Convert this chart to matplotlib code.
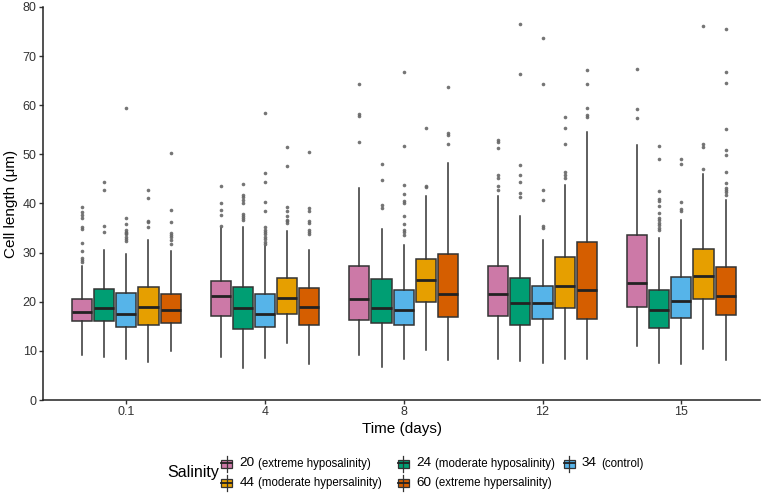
import numpy as np
import matplotlib
matplotlib.use("Agg")
import matplotlib.pyplot as plt
from matplotlib.patches import Rectangle
from matplotlib.lines import Line2D

plt.rcParams['font.family'] = ['Liberation Sans', 'DejaVu Sans']

# time points (days)
days = ['0.1', '4', '8', '12', '15']

# salinity groups
salinity = ['20', '24', '34', '44', '60']
sal_desc = ['(extreme hyposalinity)', '(moderate hyposalinity)', '(control)',
            '(moderate hypersalinity)', '(extreme hypersalinity)']
colors = ['#CC79A7', '#009E73', '#56B4E9', '#E69F00', '#D55E00']

# box stats per salinity, one row per day: [lower whisker, q1, median, q3, upper whisker]
s20 = [[9.2, 16.0, 18.0, 20.6, 27.2],
       [8.8, 17.2, 21.1, 24.3, 35.0],
       [9.2, 16.3, 20.6, 27.3, 43.2],
       [8.4, 17.2, 21.6, 27.3, 41.5],
       [10.9, 19.0, 23.9, 33.6, 51.9]]
s24 = [[8.7, 16.0, 18.8, 22.6, 30.6],
       [6.5, 14.4, 18.8, 23.1, 35.2],
       [6.8, 15.6, 18.8, 24.6, 34.9],
       [8.0, 15.2, 19.7, 24.9, 37.4],
       [7.6, 14.6, 18.4, 22.3, 32.9]]
s34 = [[8.3, 14.8, 17.6, 21.8, 29.8],
       [8.5, 14.9, 17.6, 21.5, 31.3],
       [8.4, 15.2, 18.3, 22.4, 31.6],
       [7.5, 16.4, 19.7, 23.3, 32.5],
       [7.3, 16.7, 20.2, 25.1, 36.7]]
s44 = [[7.8, 15.2, 18.9, 23.1, 32.5],
       [11.7, 17.6, 20.7, 24.8, 34.5],
       [10.1, 19.9, 24.5, 28.7, 41.6],
       [8.3, 18.8, 23.3, 29.1, 43.7],
       [10.3, 20.5, 25.2, 30.7, 46.0]]
s60 = [[9.9, 15.7, 18.4, 21.6, 30.3],
       [7.3, 15.3, 19.0, 22.7, 30.6],
       [8.2, 16.9, 21.6, 29.7, 48.2],
       [8.3, 16.5, 22.4, 32.2, 54.6],
       [8.2, 17.3, 21.2, 27.0, 40.7]]

# outliers per salinity, per day
o20 = [[39.3, 38.2, 37.6, 37.1, 35.2, 34.9, 32.0, 30.4, 28.9, 28.5, 28.1],
       [43.5, 40.1, 38.6, 37.6, 35.5],
       [64.4, 58.2, 57.8, 52.5],
       [52.9, 52.5, 51.2, 45.7, 45.2, 43.5, 42.7],
       [67.3, 59.2, 57.4]]
o24 = [[44.4, 42.8, 35.4, 34.3],
       [43.9, 41.7, 41.3, 40.8, 40.1, 37.8, 37.4, 37.1, 36.6],
       [48.0, 44.7, 39.7, 39.1],
       [76.5, 66.4, 47.8, 45.8, 44.4, 42.2, 41.4],
       [51.8, 49.0, 42.5, 41.0, 40.6, 39.5, 38.1, 37.1, 36.6, 36.1, 35.6, 35.0, 34.7]]
o34 = [[59.5, 37.1, 35.9, 34.7, 34.3, 34.0, 33.7, 33.2, 32.7, 32.3],
       [58.5, 46.3, 44.4, 40.3, 38.4, 35.2, 34.7, 34.2, 33.7, 33.2, 32.7, 32.2, 31.8],
       [66.7, 51.8, 43.7, 42.0, 40.5, 40.0, 37.4, 35.9, 34.7, 34.3, 33.5],
       [73.6, 64.3, 42.7, 40.7, 35.5, 35.0],
       [49.1, 48.0, 40.3, 38.8, 38.4]]
o44 = [[42.7, 41.2, 36.5, 36.2, 35.2],
       [51.5, 47.6, 39.3, 38.4, 37.4, 36.7, 36.4, 36.1],
       [55.4, 43.5, 43.3],
       [57.7, 55.4, 52.2, 46.4, 45.8, 45.2],
       [76.1, 52.1, 51.6, 47.1]]
o60 = [[50.3, 38.7, 36.2, 34.0, 33.5, 33.1, 32.6, 31.8],
       [50.5, 39.0, 38.4, 36.5, 36.1, 34.7, 34.2, 33.7],
       [63.8, 54.4, 54.0, 52.2],
       [67.2, 64.4, 59.5, 58.1, 57.7],
       [75.6, 66.8, 64.6, 55.1, 50.9, 49.9, 46.5, 44.2, 43.1, 42.7, 42.3, 41.8]]

box_data = [s20, s24, s34, s44, s60]
out_data = [o20, o24, o34, o44, o60]

W, H = 767, 494
fig = plt.figure(figsize=(W / 100, H / 100), dpi=100)
ax = fig.add_axes([43 / W, 1 - 400 / H, 717 / W, 393 / H])

dodge = 0.16
for i in range(len(salinity)):
    stats = []
    for d in range(len(days)):
        lo, q1, med, q3, hi = box_data[i][d]
        stats.append(dict(whislo=lo, q1=q1, med=med, q3=q3, whishi=hi, fliers=out_data[i][d]))
    pos = np.arange(1, len(days) + 1) + (i - 2) * dodge
    bp = ax.bxp(stats, positions=pos, widths=0.145, patch_artist=True, showcaps=False,
                boxprops=dict(edgecolor='#333333', linewidth=1.1),
                whiskerprops=dict(color='#333333', linewidth=1.1),
                medianprops=dict(color='#222222', linewidth=2.0),
                flierprops=dict(marker='o', markersize=2.6, markerfacecolor='#666666',
                                markeredgecolor='none', alpha=0.9),
                manage_ticks=False)
    for b in bp['boxes']:
        b.set_facecolor(colors[i])

ax.set_xlim(0.4, 0.4 + 717 / 138.75)
ax.set_ylim(0, 80)
ax.set_xticks(range(1, len(days) + 1))
ax.set_xticklabels(days)
ax.set_yticks(np.arange(0, 81, 10))
ax.tick_params(labelsize=9, colors='#333333', length=3, width=1, pad=1.5)
for s in ['top', 'right']:
    ax.spines[s].set_visible(False)
for s in ['left', 'bottom']:
    ax.spines[s].set_color('#222222')
    ax.spines[s].set_linewidth(1.1)
ax.set_ylabel('Cell length (\u03bcm)', fontsize=11)
ax.yaxis.set_label_coords((18 - 43) / 717, 0.5)
ax.set_xlabel('Time (days)', fontsize=11, labelpad=3)


# legend drawn by hand: key glyph, big number, small description
def legend_key(xc, yc, color):
    bw, bh, wh = 11, 8, 4
    fig.add_artist(Line2D([xc / W, xc / W], [1 - (yc - bh / 2 - wh) / H, 1 - (yc + bh / 2 + wh) / H],
                          color='#333333', lw=0.9, transform=fig.transFigure))
    fig.add_artist(Rectangle(((xc - bw / 2) / W, 1 - (yc + bh / 2) / H), bw / W, bh / H,
                             facecolor=color, edgecolor='#333333', lw=0.9,
                             transform=fig.transFigure))
    fig.add_artist(Line2D([(xc - bw / 2) / W, (xc + bw / 2) / W], [1 - yc / H] * 2,
                          color='#222222', lw=1.3, transform=fig.transFigure))


fig.text(167 / W, 1 - 472.5 / H, 'Salinity', fontsize=11.5, ha='left', va='center')
col_x = [226.5, 403, 569]
row_y = [463.5, 482.5]
for k in range(len(salinity)):
    xc = col_x[k % 3]
    yc = row_y[k // 3]
    legend_key(xc, yc, colors[k])
    fig.text((xc + 13) / W, 1 - yc / H, salinity[k], fontsize=9.7, ha='left', va='center')
    fig.text((xc + 32) / W, 1 - yc / H, sal_desc[k], fontsize=8.3, ha='left', va='center')

fig.savefig('out.png', dpi=100)
